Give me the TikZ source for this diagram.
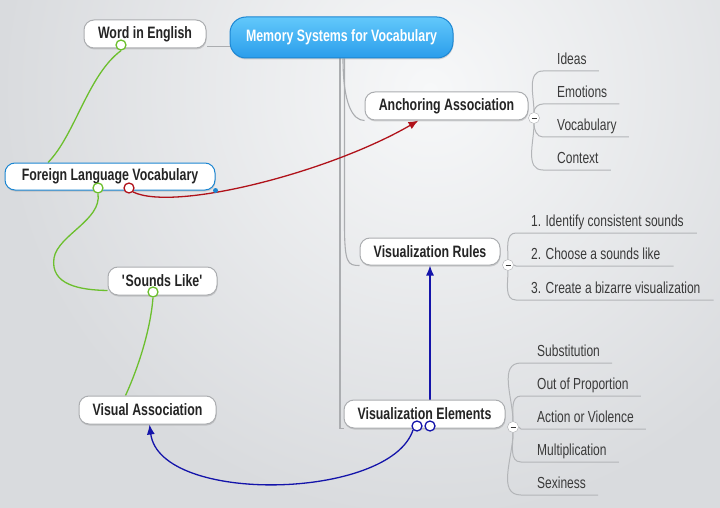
\documentclass[tikz,border=0pt]{standalone}
\usepackage{fontspec}
\setmainfont{Liberation Sans}[FakeStretch=0.75]
\usetikzlibrary{arrows.meta,shadows}
\definecolor{MBlue}{HTML}{2A9DEB}
\definecolor{MBlueTop}{HTML}{62C8FB}
\definecolor{MBlueLine}{HTML}{1C86D2}
\definecolor{MGray}{HTML}{ABADB0}
\definecolor{MText}{HTML}{242424}
\definecolor{MSub}{HTML}{3A3A3A}
\definecolor{MGreen}{HTML}{6CBF2E}
\definecolor{MRed}{HTML}{B0121A}
\definecolor{MNavy}{HTML}{1414AA}
\definecolor{MBack}{HTML}{D9DBDE}
\definecolor{MLight}{HTML}{F7F8F9}
\pgfdeclarelayer{back}
\pgfdeclarelayer{mid}
\pgfsetlayers{back,mid,main}

\begin{document}
\begin{tikzpicture}[
  x=1pt,y=-1pt,
  topic/.style={draw=MGray,line width=1pt,fill=white,rounded corners=10pt,
    minimum height=28pt,inner sep=0pt,text=MText,
    font=\fontsize{16.5}{18}\selectfont\bfseries,
    drop shadow={shadow xshift=0.5pt,shadow yshift=-1.5pt,opacity=0.3}},
  central/.style={draw=MBlueLine,line width=1pt,top color=MBlueTop,bottom color=MBlue,
    rounded corners=16pt,minimum height=41pt,inner sep=0pt,text=white,
    font=\fontsize{16.5}{18}\selectfont\bfseries,
    drop shadow={shadow xshift=0.5pt,shadow yshift=-1.5pt,opacity=0.3}},
  sub/.style={anchor=south west,inner sep=0pt,text depth=6pt,text=MSub,
    font=\fontsize{16}{18}\selectfont},
  trunk/.style={draw=MGray,line width=1.1pt},
  twig/.style={draw=MGray!90,line width=1pt},
  col/.style={circle,draw=MGray,fill=white,minimum size=11pt,inner sep=0pt,
    path picture={\draw[MSub,line width=0.9pt]
      ([xshift=-2.5pt]path picture bounding box.center) --
      ([xshift=2.5pt]path picture bounding box.center);}},
  relc/.style={circle,draw=#1,fill=white,line width=1.3pt,minimum size=10pt,inner sep=0pt},
  rel/.style={draw=#1,line width=1.3pt},
  arr/.style={-{Latex[length=10pt,width=8pt]}}
]
  % background
  \useasboundingbox (0,0) rectangle (720,508);
  \begin{pgfonlayer}{back}
    \fill[MBack] (0,0) rectangle (720,508);
    \clip (0,0) rectangle (720,508);
    \shade[inner color=MLight,outer color=MBack] (430,90) circle (430);
  \end{pgfonlayer}

  % topics
  \node[central,minimum width=223pt] (root) at (341.5,37.5) {Memory Systems for Vocabulary};
  \node[topic,minimum width=122pt] (wie) at (145,34) {Word in English};
  \node[topic,minimum width=163pt] (aa) at (446.5,106) {Anchoring Association};
  \node[topic,minimum width=140pt,minimum height=27pt] (vr) at (430,251.5) {Visualization Rules};
  \node[topic,minimum width=161pt] (ve) at (424.5,414) {Visualization Elements};
  \node[topic,draw=MBlueLine,minimum width=210pt,minimum height=27pt] (flv) at (110,176.5) {Foreign Language Vocabulary};
  \node[topic,minimum width=109pt] (sl) at (162.5,281) {\textquotesingle Sounds Like\textquotesingle};
  \node[topic,minimum width=137pt] (va) at (147.5,410) {Visual Association};
  \fill[MBlueLine] (flv.south east) circle (2.5);

  % branches from the central topic
  \begin{pgfonlayer}{mid}
    \draw[trunk] ([yshift=-9pt]root.west) -- ([yshift=2pt]wie.south east);
    \draw[trunk] ([xshift=1.5pt]root.south) .. controls +(0,45) and +(-12,0) .. (aa.south west);
    \draw[trunk] ([xshift=3pt]root.south) -- ++(0,165) .. controls +(0,40) and +(-12,0) .. (vr.south west);
    \draw[trunk] ([xshift=-1.5pt]root.south) |- (ve.south west);
  \end{pgfonlayer}

  % anchoring association
  \node[col] (aacol) at (534,118) {};
  \node[sub] (ideas) at (557,71) {Ideas};
  \node[sub] (emo) at (557,104) {Emotions};
  \node[sub] (voc) at (557,137) {Vocabulary};
  \node[sub] (ctx) at (557,170) {Context};
  \begin{pgfonlayer}{mid}
    \draw[twig] (aacol.north) to[out=90,in=180] ([xshift=-14pt]ideas.south west) -- ([xshift=12pt]ideas.south east);
    \draw[twig] (aacol.north) to[out=90,in=180] ([xshift=-14pt]emo.south west) -- ([xshift=12pt]emo.south east);
    \draw[twig] (aacol.south) to[out=-90,in=180] ([xshift=-14pt]voc.south west) -- ([xshift=12pt]voc.south east);
    \draw[twig] (aacol.south) to[out=-90,in=180] ([xshift=-14pt]ctx.south west) -- ([xshift=12pt]ctx.south east);
  \end{pgfonlayer}

  % visualization rules
  \node[col] (vrcol) at (508,265) {};
  \node[sub] (r1) at (531,233) {1. Identify consistent sounds};
  \node[sub] (r2) at (531,266) {2. Choose a sounds like};
  \node[sub] (r3) at (531,300) {3. Create a bizarre visualization};
  \begin{pgfonlayer}{mid}
    \draw[twig] (vrcol.north) to[out=90,in=180] ([xshift=-15pt]r1.south west) -- ([xshift=13pt]r1.south east);
    \draw[twig] (vrcol.east) -- ([xshift=-15pt]r2.south west) -- ([xshift=13pt]r2.south east);
    \draw[twig] (vrcol.south) to[out=-90,in=180] ([xshift=-15pt]r3.south west) -- ([xshift=13pt]r3.south east);
  \end{pgfonlayer}

  % visualization elements
  \node[col] (vecol) at (513,427) {};
  \node[sub] (e1) at (537,363) {Substitution};
  \node[sub] (e2) at (537,396) {Out of Proportion};
  \node[sub] (e3) at (537,429) {Action or Violence};
  \node[sub] (e4) at (537,462) {Multiplication};
  \node[sub] (e5) at (537,495) {Sexiness};
  \begin{pgfonlayer}{mid}
    \draw[twig] (vecol.north) to[out=90,in=180] ([xshift=-16pt]e1.south west) -- ([xshift=12pt]e1.south east);
    \draw[twig] (vecol.north) to[out=90,in=180] ([xshift=-16pt]e2.south west) -- ([xshift=12pt]e2.south east);
    \draw[twig] (vecol.east) -- ([xshift=-16pt]e3.south west) -- ([xshift=12pt]e3.south east);
    \draw[twig] (vecol.south) to[out=-90,in=180] ([xshift=-16pt]e4.south west) -- ([xshift=12pt]e4.south east);
    \draw[twig] (vecol.south) to[out=-90,in=180] ([xshift=-16pt]e5.south west) -- ([xshift=12pt]e5.south east);
  \end{pgfonlayer}

  % relationships
  \node[relc=MGreen] (g1) at (121,45) {};
  \node[relc=MGreen] (g2) at (98,188) {};
  \node[relc=MGreen] (g3) at (153,292) {};
  \node[relc=MRed] (rd) at (129,188) {};
  \node[relc=MNavy] (b1) at (417,426) {};
  \node[relc=MNavy] (b2) at (430,426) {};
  \begin{pgfonlayer}{mid}
    \draw[rel=MGreen] (g1.south) .. controls (88,75) and (75,135) .. ([xshift=-62pt]flv.north);
    \draw[rel=MGreen] (g2.south) .. controls (102,220) and (58,235) .. (54,258)
      .. controls (50,285) and (80,290) .. ([yshift=5pt]sl.south west);
    \draw[rel=MGreen] (g3.south) .. controls (150,335) and (135,375) .. ([xshift=-22pt]va.north);
    \draw[rel=MRed,arr] (rd.south east) .. controls (175,212) and (330,172) .. ([xshift=-28pt]aa.south);
    \draw[rel=MNavy,arr] (b2.north) -- (vr.south);
    \draw[rel=MNavy,arr] (b1.south west) .. controls (390,500) and (160,505) .. ([xshift=2pt]va.south);
  \end{pgfonlayer}
\end{tikzpicture}
\end{document}
